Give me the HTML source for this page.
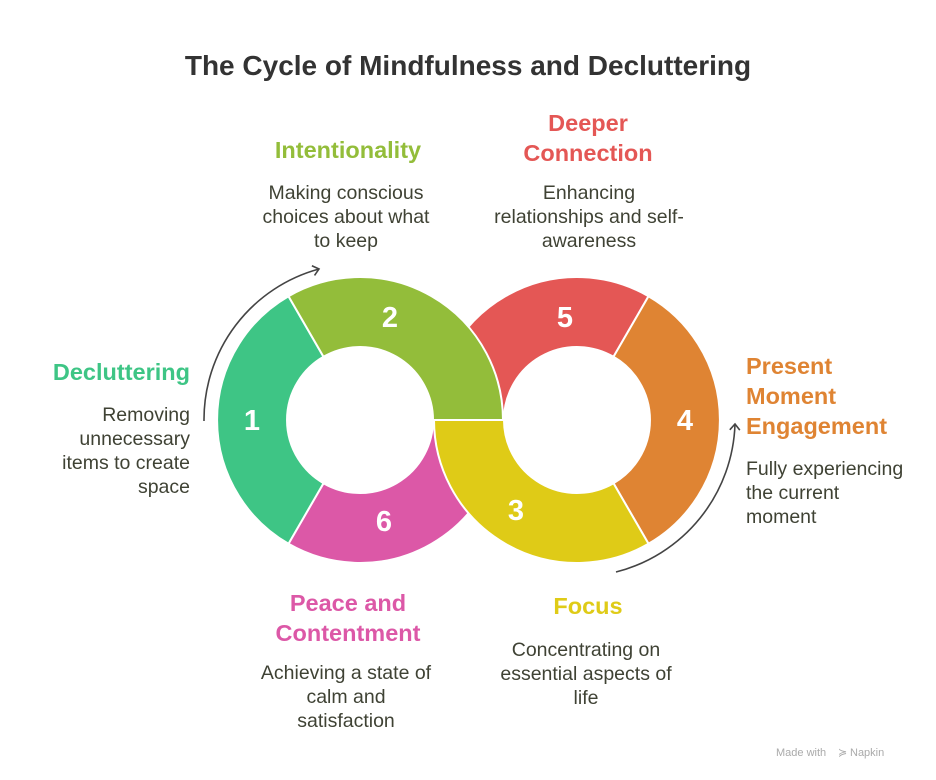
<!DOCTYPE html>
<html><head><meta charset="utf-8"><style>
html,body{margin:0;padding:0;background:#fff;}
svg{display:block;font-family:"Liberation Sans",Arial,sans-serif;}
.t{font-weight:bold;font-size:23.5px;}
.d{font-size:19.5px;fill:#3f4234;}
.n{font-weight:bold;font-size:29px;fill:#fff;}
</style></head><body>
<svg width="936" height="780" viewBox="0 0 936 780">
<defs><marker id="ah" markerWidth="12" markerHeight="12" refX="7" refY="6" orient="auto" markerUnits="userSpaceOnUse"><path d="M1,1 L7,6 L1,11" fill="none" stroke="#444" stroke-width="1.6"/></marker></defs>
<text x="468" y="75" text-anchor="middle" font-weight="bold" font-size="28" fill="#333">The Cycle of Mindfulness and Decluttering</text>
<g stroke="#fff" stroke-width="2" stroke-linejoin="round">
<path d="M503,420 A143 143 0 0 1 288.5,543.8 L323.5,483.2 A73 73 0 0 0 433,420 Z" fill="#dc58a7"/>
<path d="M434,420 A143 143 0 0 1 648.5,296.2 L613.5,356.8 A73 73 0 0 0 504,420 Z" fill="#e45755"/>
<path d="M648.5,296.2 A143 143 0 0 1 648.5,543.8 L613.5,483.2 A73 73 0 0 0 613.5,356.8 Z" fill="#df8433"/>
<path d="M288.5,543.8 A143 143 0 0 1 288.5,296.2 L323.5,356.8 A73 73 0 0 0 323.5,483.2 Z" fill="#3ec585"/>
<path d="M288.5,296.2 A143 143 0 0 1 503,420 L433,420 A73 73 0 0 0 323.5,356.8 Z" fill="#93bd3a"/>
<path d="M648.5,543.8 A143 143 0 0 1 434,420 L504,420 A73 73 0 0 0 613.5,483.2 Z" fill="#dfcb17"/>
</g>
<path d="M204,421 A156 156 0 0 1 319,269" fill="none" stroke="#444" stroke-width="1.6" marker-end="url(#ah)"/>
<path d="M616,572 A158 158 0 0 0 735,424" fill="none" stroke="#444" stroke-width="1.6" marker-end="url(#ah)"/>
<text class="n" x="252" y="430" text-anchor="middle">1</text>
<text class="n" x="390" y="327" text-anchor="middle">2</text>
<text class="n" x="565" y="327" text-anchor="middle">5</text>
<text class="n" x="685" y="430" text-anchor="middle">4</text>
<text class="n" x="516" y="520" text-anchor="middle">3</text>
<text class="n" x="384" y="531" text-anchor="middle">6</text>

<text class="t" x="348" y="158" text-anchor="middle" fill="#93bd3a">Intentionality</text>
<text class="d" x="346" y="199" text-anchor="middle">Making conscious</text>
<text class="d" x="346" y="223" text-anchor="middle">choices about what</text>
<text class="d" x="346" y="247" text-anchor="middle">to keep</text>

<text class="t" x="588" y="131" text-anchor="middle" fill="#e45755">Deeper</text>
<text class="t" x="588" y="161" text-anchor="middle" fill="#e45755">Connection</text>
<text class="d" x="589" y="199" text-anchor="middle">Enhancing</text>
<text class="d" x="589" y="223" text-anchor="middle">relationships and self-</text>
<text class="d" x="589" y="247" text-anchor="middle">awareness</text>

<text class="t" x="190" y="380" text-anchor="end" fill="#3ec585">Decluttering</text>
<text class="d" x="190" y="421" text-anchor="end">Removing</text>
<text class="d" x="190" y="445" text-anchor="end">unnecessary</text>
<text class="d" x="190" y="469" text-anchor="end">items to create</text>
<text class="d" x="190" y="493" text-anchor="end">space</text>

<text class="t" x="746" y="374" fill="#df8433">Present</text>
<text class="t" x="746" y="404" fill="#df8433">Moment</text>
<text class="t" x="746" y="434" fill="#df8433">Engagement</text>
<text class="d" x="746" y="475">Fully experiencing</text>
<text class="d" x="746" y="499">the current</text>
<text class="d" x="746" y="523">moment</text>

<text class="t" x="348" y="611" text-anchor="middle" fill="#dc58a7">Peace and</text>
<text class="t" x="348" y="641" text-anchor="middle" fill="#dc58a7">Contentment</text>
<text class="d" x="346" y="679" text-anchor="middle">Achieving a state of</text>
<text class="d" x="346" y="703" text-anchor="middle">calm and</text>
<text class="d" x="346" y="727" text-anchor="middle">satisfaction</text>

<text class="t" x="588" y="614" text-anchor="middle" fill="#dfcb17">Focus</text>
<text class="d" x="586" y="656" text-anchor="middle">Concentrating on</text>
<text class="d" x="586" y="680" text-anchor="middle">essential aspects of</text>
<text class="d" x="586" y="704" text-anchor="middle">life</text>

<text x="776" y="756" font-size="11" fill="#aaa">Made with</text>
<text x="838" y="756" font-size="11" fill="#aaa">≽</text>
<text x="850" y="756" font-size="11" fill="#aaa">Napkin</text>
</svg>
</body></html>
